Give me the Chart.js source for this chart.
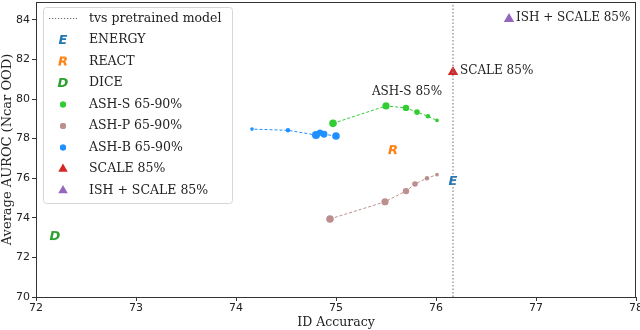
<!DOCTYPE html>
<html>
<head>
<meta charset="utf-8">
<script src="https://cdn.jsdelivr.net/npm/chart.js@4"></script>
<style>
  html, body { margin: 0; padding: 0; background: #fff; }
  #wrap { width: 640px; height: 330px; }
</style>
</head>
<body>
<div id="wrap"><canvas id="myChart" width="640" height="330"></canvas></div>
<script>
// values
const tvsAccuracy = 76.17;
const energyPt = [76.17, 75.86];
const reactPt = [75.57, 77.42];
const dicePt = [72.19, 73.08];
const ashS_x = [74.97, 75.50, 75.70, 75.81, 75.92, 76.01];
const ashS_y = [78.77, 79.65, 79.55, 79.34, 79.13, 78.92];
const ashP_x = [74.94, 75.49, 75.70, 75.79, 75.91, 76.01];
const ashP_y = [73.94, 74.81, 75.35, 75.71, 76.00, 76.18];
const ashB_x = [75.00, 74.88, 74.84, 74.80, 74.52, 74.16];
const ashB_y = [78.13, 78.22, 78.30, 78.18, 78.42, 78.48];
const scalePt = [76.17, 81.36];
const ishScalePt = [76.73, 84.04];
const xTicks = [72, 73, 74, 75, 76, 77, 78];
const yTicks = [70, 72, 74, 76, 78, 80, 82, 84];

const ashRadius = [3.8, 3.6, 3.2, 2.8, 2.3, 1.8];
const ashBRadius = [3.8, 3.4, 3.2, 4.0, 2.2, 1.8];

function pts(xs, ys) {
    let out = [];
    for (let i = 0; i < xs.length; i++) out.push({x: xs[i], y: ys[i]});
    return out;
}

function letterIcon(ch, color) {
    const c = document.createElement('canvas');
    c.width = 14; c.height = 16;
    const g = c.getContext('2d');
    g.fillStyle = color;
    g.font = 'italic bold 13px "DejaVu Sans"';
    g.textAlign = 'center';
    g.textBaseline = 'middle';
    g.fillText(ch, 7, 8.5);
    return c;
}

const iconE = letterIcon('E', '#1f77b4');
const iconR = letterIcon('R', '#ff7f0e');
const iconD = letterIcon('D', '#2ca02c');

const serif = '"DejaVu Serif", serif';
const sans = '"DejaVu Sans", sans-serif';

const datasets = [
    {label: 'tvs pretrained model', data: [{x: tvsAccuracy, y: 70}, {x: tvsAccuracy, y: 85}],
     showLine: true, borderColor: '#888', borderWidth: 1.2, borderDash: [1.5, 2], pointRadius: 0,
     pointStyle: 'line', legendDash: true},
    {label: 'ENERGY', data: [{x: energyPt[0], y: energyPt[1]}], pointStyle: iconE, pointRadius: 7},
    {label: 'REACT', data: [{x: reactPt[0], y: reactPt[1]}], pointStyle: iconR, pointRadius: 7},
    {label: 'DICE', data: [{x: dicePt[0], y: dicePt[1]}], pointStyle: iconD, pointRadius: 7},
    {label: 'ASH-S 65-90%', data: pts(ashS_x, ashS_y), showLine: true, borderColor: '#32cd32',
     backgroundColor: '#32cd32', borderWidth: 1, borderDash: [3, 2], pointBorderWidth: 0,
     pointRadius: (c) => ashRadius[c.dataIndex]},
    {label: 'ASH-P 65-90%', data: pts(ashP_x, ashP_y), showLine: true, borderColor: '#bc8f8f',
     backgroundColor: '#bc8f8f', borderWidth: 1, borderDash: [3, 2], pointBorderWidth: 0,
     pointRadius: (c) => ashRadius[c.dataIndex]},
    {label: 'ASH-B 65-90%', data: pts(ashB_x, ashB_y), showLine: true, borderColor: '#1e90ff',
     backgroundColor: '#1e90ff', borderWidth: 1, borderDash: [3, 2], pointBorderWidth: 0,
     pointRadius: (c) => ashBRadius[c.dataIndex]},
    {label: 'SCALE 85%', data: [{x: scalePt[0], y: scalePt[1]}], pointStyle: 'triangle',
     backgroundColor: '#d62728', borderColor: '#d62728', pointRadius: 6, pointBorderWidth: 0},
    {label: 'ISH + SCALE 85%', data: [{x: ishScalePt[0], y: ishScalePt[1]}], pointStyle: 'triangle',
     backgroundColor: '#9467bd', borderColor: '#9467bd', pointRadius: 6, pointBorderWidth: 0}
];

// legend box + frame + point labels
const extras = {
    id: 'extras',
    afterDatasetsDraw(chart) {
        const ctx = chart.ctx;
        const a = chart.chartArea;
        const xs = chart.scales.x, ys = chart.scales.y;
        ctx.save();
        // frame
        ctx.strokeStyle = '#333';
        ctx.lineWidth = 1;
        ctx.strokeRect(a.left + 0.5, a.top + 0.5, a.right - a.left - 1, a.bottom - a.top);

        // point labels
        ctx.fillStyle = '#222';
        ctx.font = '12px ' + serif;
        ctx.textBaseline = 'middle';
        ctx.textAlign = 'left';
        ctx.fillText('SCALE 85%', xs.getPixelForValue(scalePt[0]) + 7, ys.getPixelForValue(scalePt[1]) - 1);
        ctx.fillText('ISH + SCALE 85%', xs.getPixelForValue(ishScalePt[0]) + 7, ys.getPixelForValue(ishScalePt[1]) - 1);
        ctx.textAlign = 'center';
        ctx.fillText('ASH-S 85%', xs.getPixelForValue(ashS_x[1]) + 21, ys.getPixelForValue(ashS_y[1]) - 14);

        // legend
        const lx = 43, ly = 7, lw = 189, lh = 196;
        ctx.fillStyle = 'rgba(255,255,255,0.85)';
        ctx.strokeStyle = '#d6d6d6';
        ctx.beginPath();
        ctx.roundRect(lx + 0.5, ly + 0.5, lw, lh, 3);
        ctx.fill();
        ctx.stroke();
        const rowH = 21.5;
        chart.data.datasets.forEach((ds, i) => {
            const cy = ly + 11.5 + i * rowH;
            if (ds.legendDash) {
                ctx.strokeStyle = '#666';
                ctx.lineWidth = 1;
                ctx.setLineDash([1.2, 1.8]);
                ctx.beginPath();
                ctx.moveTo(49, cy);
                ctx.lineTo(77, cy);
                ctx.stroke();
                ctx.setLineDash([]);
            } else {
                let r = 3;
                if (ds.pointStyle === 'triangle') r = 5.5;
                else if (typeof ds.pointStyle === 'object') r = 7;
                ctx.fillStyle = ds.backgroundColor || '#000';
                ctx.strokeStyle = ds.backgroundColor || '#000';
                Chart.helpers.drawPoint(ctx, {pointStyle: ds.pointStyle || 'circle', radius: r, borderWidth: 0}, 63, cy);
                if (!ds.pointStyle) {
                    ctx.beginPath();
                    ctx.arc(63, cy, r, 0, Math.PI * 2);
                    ctx.fill();
                }
            }
            ctx.fillStyle = '#222';
            ctx.font = '12.5px ' + serif;
            ctx.textAlign = 'left';
            ctx.textBaseline = 'middle';
            ctx.fillText(ds.label, 89, cy);
        });
        ctx.restore();
    }
};

new Chart(document.getElementById('myChart'), {
    type: 'scatter',
    data: {datasets: datasets},
    options: {
        responsive: false,
        animation: false,
        layout: {autoPadding: false, padding: {left: 0, right: 4, top: 2, bottom: 0}},
        plugins: {legend: {display: false}, tooltip: {enabled: false}},
        scales: {
            x: {
                type: 'linear', min: 72, max: 78,
                afterBuildTicks: (s) => { s.ticks = xTicks.map(v => ({value: v})); },
                afterFit: (s) => { s.height = 33; s.paddingLeft = 0; s.paddingRight = 0; },
                grid: {drawOnChartArea: false, drawTicks: true, tickLength: 4, color: '#333'},
                border: {color: '#333'},
                ticks: {color: '#222', font: {family: sans, size: 11}, padding: 1, maxRotation: 0},
                title: {display: true, text: 'ID Accuracy', color: '#222', font: {family: serif, size: 12.5}, padding: {top: 0, bottom: 0}}
            },
            y: {
                type: 'linear', min: 70, max: 84.9,
                afterBuildTicks: (s) => { s.ticks = yTicks.map(v => ({value: v})); },
                afterFit: (s) => { s.width = 36; s.paddingTop = 0; s.paddingBottom = 0; },
                grid: {drawOnChartArea: false, drawTicks: true, tickLength: 4, color: '#333'},
                border: {color: '#333'},
                ticks: {color: '#222', font: {family: sans, size: 11}, padding: 2},
                title: {display: true, text: 'Average AUROC (Ncar OOD)', color: '#222', font: {family: serif, size: 13}, padding: {top: 0, bottom: 0}}
            }
        }
    },
    plugins: [extras]
});
</script>
</body>
</html>
